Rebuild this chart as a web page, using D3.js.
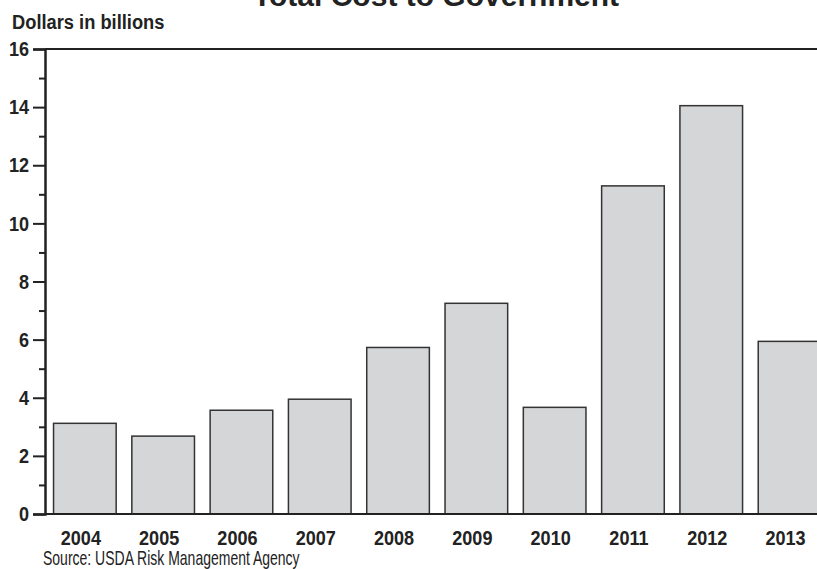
<!DOCTYPE html>
<html lang="en">
<head>
    <meta charset="UTF-8">
    <title>Total Cost to Government</title>
    <script src="https://d3js.org/d3.v7.min.js"></script>
    <style>
        body { margin: 0; background: #fff; }
        svg { display: block; }
        text { fill: #222; font-family: "Liberation Sans", Arial, sans-serif; }
        .title { font-weight: bold; font-size: 30px; }
        .ylabel { font-weight: bold; font-size: 20px; }
        .tick text { font-weight: bold; font-size: 21px; }
        .source { font-size: 20px; }
        .bar { fill: #d5d6d8; stroke: #333; stroke-width: 1.5px; }
    </style>
</head>
<body>
    <svg width="817" height="569"></svg>

    <script>
        // values (billions of dollars)
        const years = ["2004", "2005", "2006", "2007", "2008", "2009", "2010", "2011", "2012", "2013"];
        const cost = [3.12, 2.68, 3.57, 3.95, 5.73, 7.25, 3.67, 11.29, 14.05, 5.94];
        const majorTicks = [0, 2, 4, 6, 8, 10, 12, 14, 16];
        const minorTicks = [1, 3, 5, 7, 9, 11, 13, 15];

        const data = years.map((y, i) => ({ year: y, value: cost[i] }));

        const svg = d3.select("svg");
        const plotLeft = 45, plotTop = 49, plotBottom = 514;
        const narrow = 0.86;   // the original uses a condensed face, squeeze Liberation Sans

        const x = d3.scaleBand()
            .domain(years)
            .range([plotLeft, 829.4])
            .paddingInner(0.2)
            .paddingOuter(0.109);

        const y = d3.scaleLinear()
            .domain([0, 16])
            .range([plotBottom, plotTop]);

        // bars
        svg.selectAll(".bar")
            .data(data)
            .enter().append("rect")
            .attr("class", "bar")
            .attr("x", d => x(d.year))
            .attr("y", d => y(d.value))
            .attr("width", x.bandwidth())
            .attr("height", d => y(0) - y(d.value));

        // frame lines: top and baseline
        svg.append("line")
            .attr("x1", plotLeft).attr("x2", 817)
            .attr("y1", y(16)).attr("y2", y(16))
            .attr("stroke", "#222").attr("stroke-width", 2);
        svg.append("line")
            .attr("x1", plotLeft).attr("x2", 817)
            .attr("y1", y(0)).attr("y2", y(0))
            .attr("stroke", "#222").attr("stroke-width", 2);

        // y axis, major ticks with labels
        const yAxis = svg.append("g")
            .attr("transform", `translate(${plotLeft},0)`)
            .call(d3.axisLeft(y).tickValues(majorTicks).tickSize(12).tickPadding(4));
        yAxis.select(".domain").attr("stroke", "#222").attr("stroke-width", 2.5);
        yAxis.selectAll(".tick line").attr("stroke", "#222").attr("stroke-width", 2);
        yAxis.selectAll(".tick text")
            .attr("fill", "#222")
            .attr("x", -16 / narrow)
            .attr("transform", `scale(${narrow},1)`);

        // minor ticks
        const yMinor = svg.append("g")
            .attr("transform", `translate(${plotLeft},0)`)
            .call(d3.axisLeft(y).tickValues(minorTicks).tickSize(6).tickFormat(""));
        yMinor.select(".domain").remove();
        yMinor.selectAll(".tick line").attr("stroke", "#222").attr("stroke-width", 2);

        // x labels
        const xAxis = svg.append("g")
            .attr("transform", `translate(-4,${plotBottom})`)
            .call(d3.axisBottom(x).tickSize(0).tickPadding(16));
        xAxis.select(".domain").remove();
        xAxis.selectAll(".tick text")
            .attr("fill", "#222")
            .attr("transform", `scale(${narrow},1)`);

        // titles and notes
        svg.append("text")
            .attr("class", "title")
            .attr("x", 436).attr("y", 6)
            .attr("text-anchor", "middle")
            .text("Total Cost to Government");

        svg.append("text")
            .attr("class", "ylabel")
            .attr("transform", "translate(12,29) scale(0.915,1)")
            .text("Dollars in billions");

        svg.append("text")
            .attr("class", "source")
            .attr("transform", "translate(43,565) scale(0.7,1)")
            .text("Source: USDA Risk Management Agency");
    </script>
</body>
</html>
